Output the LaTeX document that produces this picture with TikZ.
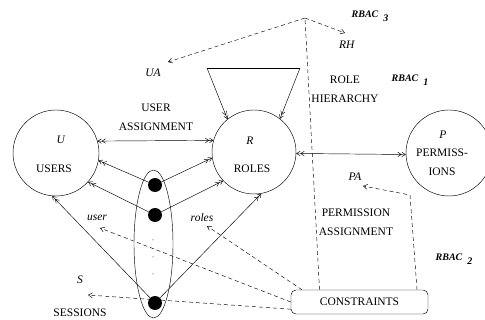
\documentclass[tikz,border=0pt]{standalone}
\usepackage{fontspec}
\setmainfont{Liberation Serif}
\usetikzlibrary{shapes, arrows, arrows.meta}

\begin{document}
\begin{tikzpicture}[x=1pt, y=-1pt, line width=0.45pt,
    every node/.style = {font=\fontsize{11.5}{19}\selectfont, align=center, inner sep=0pt},
    set/.style = {shape=circle, draw},
    member/.style = {shape=circle, fill=black, minimum size=14pt},
    pip/.style = {shape=circle, fill=black, minimum size=1pt},
    barbs/.style = {-{Straight Barb[length=3.5pt,width=4.5pt]Straight Barb[length=3.5pt,width=4.5pt]}},
    dblbarbs/.style = {{Straight Barb[length=3.5pt,width=4.5pt]Straight Barb[length=3.5pt,width=4.5pt]}-{Straight Barb[length=3.5pt,width=4.5pt]Straight Barb[length=3.5pt,width=4.5pt]}},
    link/.style = {dashed, dash pattern=on 4pt off 3pt, -{Straight Barb[length=4pt,width=5pt]}},
    level/.style = {font=\fontsize{10}{12}\selectfont\bfseries\itshape}]
    \useasboundingbox (0,0) rectangle (485,320);

    % sets
    \node[set, minimum size=86pt] (U) at (56,153) {};
    \node[set, minimum size=84pt] (R) at (254,152) {};
    \node[set, minimum size=86pt] (P) at (449,153) {};
    \node (Uname) at (61,140) {\textit{U}};
    \node (users) at (54,169) {USERS};
    \node (Rname) at (250,141) {\textit{R}};
    \node (roles) at (252,169) {ROLES};
    \node (Pname) at (443,135) {\textit{P}};
    \node (perms) at (442,162) {PERMISS-\\IONS};

    % labels
    \node (ua) at (153,73) {\textit{UA}};
    \node (rh) at (347,45) {\textit{RH}};
    \node (pa) at (355,177) {\textit{PA}};
    \node (uassign) at (156,117) {USER\\ASSIGNMENT};
    \node (rhier) at (345,89) {ROLE\\HIERARCHY};
    \node (passign) at (356,222) {PERMISSION\\ASSIGNMENT};
    \node (userfn) at (97,218) {\textit{user}};
    \node (rolesfn) at (202,218) {\textit{roles}};
    \node (sname) at (80,280) {\textit{S}};
    \node (sessions) at (80,313) {SESSIONS};
    \node[level] (rbac3) at (370,16) {RBAC\hspace{5pt}\raisebox{-4pt}{3}};
    \node[level] (rbac1) at (410,80) {RBAC\hspace{5pt}\raisebox{-4pt}{1}};
    \node[level] (rbac2) at (454,259) {RBAC\hspace{5pt}\raisebox{-4pt}{2}};

    % constraints
    \node[draw, rounded corners=5pt, minimum width=137pt, minimum height=24pt] (C) at (359.5,302) {CONSTRAINTS};
    \coordinate (top) at (305,18);
    \coordinate (uaend) at (168,62);
    \coordinate (rhend) at (345,33);
    \coordinate (pabend) at (410,195);
    \coordinate (paend) at (363,186);
    \coordinate (userend) at (100,228);
    \coordinate (rolesend) at (207,226);
    \coordinate (send) at (88,295);
    \draw[link] (top) -- (uaend);
    \draw[link] (top) -- (rhend);
    \draw[dashed, dash pattern=on 4pt off 3pt] (C.163.5) -- (top);
    \draw[link] (C.12.6) -- (pabend) -- (paend);
    \draw[link] (C.west) -- (userend);
    \draw[link] (C.168) -- (rolesend);
    \draw[link] (C.186) -- (send);

    % sessions
    \node[draw, shape=ellipse, minimum width=39pt, minimum height=148pt] (S) at (153.5,244) {};
    \node[member] (s1) at (155,185) {};
    \node[member] (s2) at (155,215) {};
    \node[member] (s3) at (155,303) {};
    \node[pip] (d1) at (153,240) {};
    \node[pip] (d2) at (153,257) {};
    \node[pip] (d3) at (153,274) {};
    \draw[barbs] (s1) -- (U.-10);
    \draw[barbs] (s1) -- (R.188);
    \draw[barbs] (s2) -- (U.-42);
    \draw[barbs] (s2) -- (R.223);
    \draw[barbs] (s3) -- (U.265);
    \draw[barbs] (s3) -- (R.-80);

    % assignments
    \draw[dblbarbs] (U.16) -- (R.164);
    \draw[dblbarbs] (R.-2) -- (P.182);

    % hierarchy
    \coordinate (tl) at (207,68);
    \coordinate (tr) at (300,68);
    \draw (tl) -- (tr);
    \draw[barbs] (tl) -- (R.129);
    \draw[barbs] (tr) -- (R.52);
\end{tikzpicture}
\end{document}
